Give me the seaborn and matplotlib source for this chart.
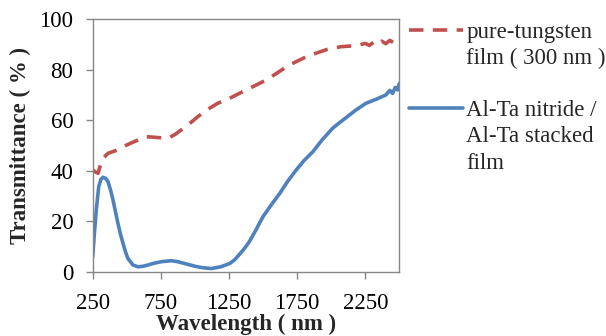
import numpy as np
import pandas as pd
import matplotlib
matplotlib.use("Agg")
import matplotlib.pyplot as plt
import seaborn as sns
from matplotlib.lines import Line2D

# pure-tungsten film (300 nm)
w_nm = [250, 270, 289, 305, 325, 362, 420, 472, 545, 642, 716, 801, 855, 948,
        1021, 1106, 1167, 1255, 1377, 1523, 1694, 1828, 1974, 2072, 2150, 2207,
        2250, 2280, 2310, 2340, 2370, 2400, 2430, 2460, 2487, 2500]
w_t = [40.3, 39.5, 39.0, 42.0, 44.9, 46.9, 48.0, 49.5, 51.3, 53.5, 53.2, 52.8,
       54.4, 58.1, 61.4, 64.7, 66.7, 68.7, 72.0, 75.9, 81.9, 85.4, 88.1, 89.1,
       89.4, 89.8, 90.4, 89.6, 90.8, 90.0, 91.3, 90.3, 91.6, 90.6, 91.8, 91.1]

# Al-Ta nitride / Al-Ta stacked film
a_nm = [250, 262, 276, 294, 310, 325, 345, 362, 380, 399, 417, 435, 453, 472,
        490, 508, 545, 582, 620, 655, 700, 752, 825, 875, 923, 1000, 1060, 1121,
        1190, 1255, 1290, 1320, 1360, 1400, 1450, 1499, 1560, 1622, 1680, 1743,
        1800, 1865, 1930, 2010, 2060, 2109, 2180, 2255, 2330, 2380, 2401, 2430,
        2450, 2470, 2487, 2500]
a_t = [5.9, 15.0, 24.4, 33.7, 36.6, 37.4, 37.0, 35.7, 32.5, 28.4, 23.8, 19.2,
       15.0, 11.3, 8.0, 5.3, 2.7, 2.0, 2.2, 2.7, 3.4, 4.0, 4.4, 4.0, 3.3, 2.2,
       1.6, 1.3, 2.0, 3.3, 4.7, 6.5, 9.0, 12.0, 16.8, 21.8, 26.5, 31.0, 35.8,
       40.3, 44.0, 47.5, 52.0, 56.8, 59.0, 61.0, 64.0, 66.7, 68.3, 69.5, 70.0,
       71.8, 70.6, 73.0, 72.0, 74.6]

labels = ["pure-tungsten film ( 300 nm )", "Al-Ta nitride / Al-Ta stacked film"]
colors = ["#C0504D", "#4F81BD"]

df = pd.concat([
    pd.DataFrame({"wl": w_nm, "T": w_t, "film": labels[0]}),
    pd.DataFrame({"wl": a_nm, "T": a_t, "film": labels[1]}),
])

sns.set_theme(style="white")
plt.rcParams["font.family"] = ["Liberation Serif", "DejaVu Serif"]

fig = plt.figure(figsize=(6.06, 3.36), dpi=100)
ax = fig.add_axes([0.153, 0.191, 0.506, 0.752])

sns.lineplot(data=df, x="wl", y="T", hue="film", style="film",
             palette=dict(zip(labels, colors)),
             dashes={labels[0]: (4.0, 2.6), labels[1]: ""},
             estimator=None, sort=True, linewidth=2.6, legend=False, ax=ax)

ax.set_xlim(250, 2500)
ax.set_ylim(0, 100)
ax.set_xticks([250, 750, 1250, 1750, 2250])
ax.set_yticks([0, 20, 40, 60, 80, 100])
for s in ax.spines.values():
    s.set_color("#868686")
    s.set_linewidth(1.0)
    s.set_visible(True)
ax.tick_params(axis="both", direction="out", length=5, width=1, color="#868686",
               labelsize=16.5, labelcolor="black", bottom=True, left=True)
ax.tick_params(axis="x", pad=10)
ax.tick_params(axis="y", pad=9)
ax.set_xlabel("Wavelength ( nm )", fontsize=16.5, fontweight="bold", labelpad=0)
ax.set_ylabel("Transmittance ( % )", fontsize=16.5, fontweight="bold", labelpad=6)

handles = [Line2D([], [], color=colors[0], lw=2.6, dashes=(4.0, 2.6)),
           Line2D([], [], color="none"),
           Line2D([], [], color="none"),
           Line2D([], [], color=colors[1], lw=2.6),
           Line2D([], [], color="none"),
           Line2D([], [], color="none")]
leg_labels = ["pure-tungsten", "film ( 300 nm )", " ",
              "Al-Ta nitride /", "Al-Ta stacked", "film"]
ax.legend(handles, leg_labels, loc="upper left",
          bbox_to_anchor=(409 / 606, 1 - 22 / 336), bbox_transform=fig.transFigure,
          frameon=False, fontsize=16.5, borderpad=0, borderaxespad=0,
          handlelength=2.35, handletextpad=0.15, labelspacing=0.22)

fig.savefig("out.png", dpi=100)
